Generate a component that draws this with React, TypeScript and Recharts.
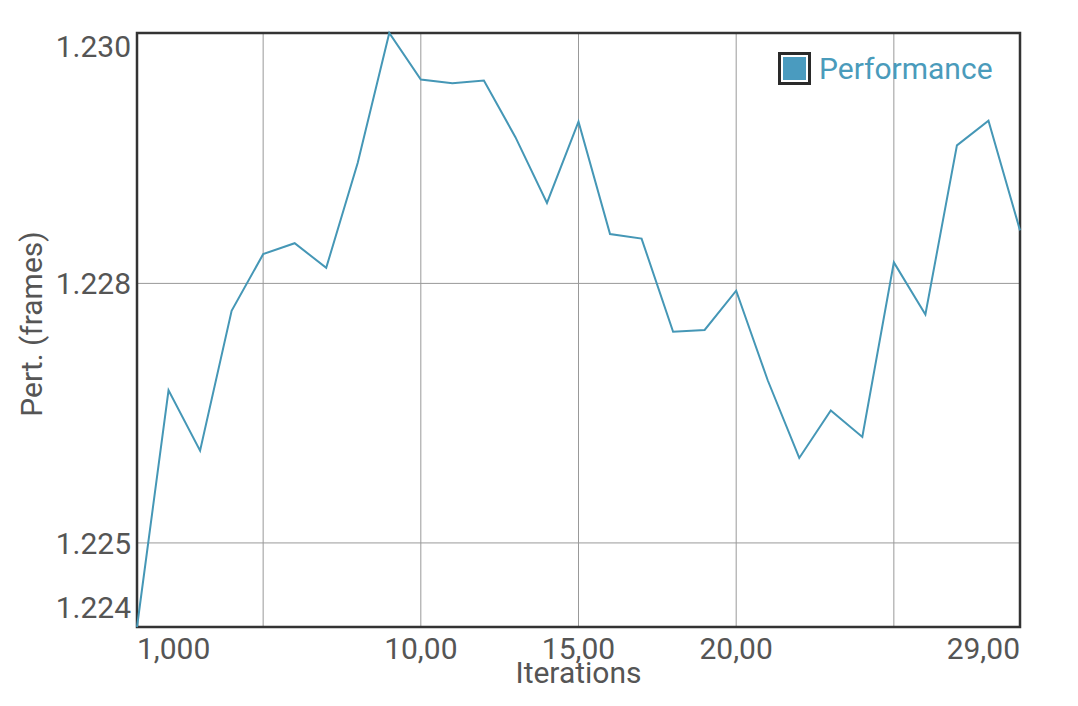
import React from "react";
import { LineChart, Line, XAxis, YAxis, CartesianGrid, ReferenceArea, Legend, Label } from "recharts";

const iterations = [1, 2, 3, 4, 5, 6, 7, 8, 9, 10, 11, 12, 13, 14, 15, 16, 17, 18, 19, 20, 21, 22, 23, 24, 25, 26, 27, 28, 29];
const performance = [
  1.2238, 1.22639, 1.22573, 1.22726, 1.22788, 1.228, 1.22773, 1.22888, 1.2303, 1.22979,
  1.22975, 1.22978, 1.22916, 1.22844, 1.22933, 1.2281, 1.22805, 1.22703, 1.22705, 1.22748,
  1.2265, 1.22565, 1.22617, 1.22588, 1.22779, 1.22722, 1.22907, 1.22934, 1.22814,
];
// grid lines every 5 iterations, labels only on these
const xTicks = [1, 5, 10, 15, 20, 25, 29];
const xLabelTicks = [1, 10, 15, 20, 29];
const yTicks = [1.2238, 1.22472, 1.22756, 1.2303];

const data = iterations.map((it, i) => ({ iter: it, perf: performance[i] }));

const yMin = Math.min(...performance);
const yMax = Math.max(...performance);

const LINE = "#4597b6";
const TEXT = "#555";
const FONT = "Roboto";

const XTick = (props: any) => {
  const { x, y, payload } = props;
  const v = payload.value;
  if (!xLabelTicks.includes(v)) return null;
  let anchor: "start" | "middle" | "end" = "middle";
  if (v === xLabelTicks[0]) anchor = "start";
  if (v === xLabelTicks[xLabelTicks.length - 1]) anchor = "end";
  const label = v.toPrecision(4).replace(".", ",");
  return (
    <text x={x} y={y} dy={32} textAnchor={anchor} fill={TEXT} fontSize={30} fontFamily={FONT}>
      {label}
    </text>
  );
};

const YTick = (props: any) => {
  const { x, y, payload } = props;
  const v = payload.value;
  let dy = 11;
  if (v === yTicks[yTicks.length - 1]) dy = 24; // top label pushed inside
  if (v === yTicks[0]) dy = -9; // bottom label pushed up
  return (
    <text x={x} y={y} dy={dy} textAnchor="end" fill={TEXT} fontSize={30} fontFamily={FONT}>
      {v.toFixed(3)}
    </text>
  );
};

const LegendBox = () => (
  <div style={{ display: "flex", alignItems: "center", fontFamily: FONT, fontSize: 30, color: "#4a9bbb" }}>
    <span
      style={{
        display: "block",
        width: 33,
        height: 33,
        boxSizing: "border-box",
        border: "3px solid #2a2a2a",
        padding: 2,
        background: "#fff",
      }}
    >
      <span style={{ display: "block", width: "100%", height: "100%", background: "#4a9bbf" }} />
    </span>
    <span style={{ marginLeft: 8, lineHeight: "33px", whiteSpace: "nowrap" }}>Performance</span>
  </div>
);

export default function App() {
  return (
    <LineChart
      width={1062}
      height={690}
      data={data}
      margin={{ top: 25, right: 50, bottom: 0, left: 0 }}
      style={{ fontFamily: FONT }}
    >
      <CartesianGrid stroke="#999" strokeWidth={1} />
      <XAxis
        dataKey="iter"
        type="number"
        domain={[1, 29]}
        ticks={xTicks}
        interval={0}
        height={71}
        axisLine={false}
        tickLine={false}
        tickSize={0}
        tickMargin={0}
        tick={<XTick />}
      >
        <Label
          content={({ viewBox }: any) => (
            <text
              x={viewBox.x + viewBox.width / 2}
              y={viewBox.y + 56}
              textAnchor="middle"
              fill={TEXT}
              fontSize={30}
              fontFamily={FONT}
            >
              Iterations
            </text>
          )}
        />
      </XAxis>
      <YAxis
        type="number"
        domain={[yMin, yMax]}
        ticks={yTicks}
        interval={0}
        width={129}
        axisLine={false}
        tickLine={false}
        tickSize={0}
        tickMargin={6}
        tick={<YTick />}
      >
        <Label
          content={({ viewBox }: any) => {
            const cx = viewBox.x + 34;
            const cy = viewBox.y + viewBox.height / 2 - 6;
            return (
              <text
                x={cx}
                y={cy}
                transform={`rotate(-90, ${cx}, ${cy})`}
                textAnchor="middle"
                fill={TEXT}
                fontSize={30}
                fontFamily={FONT}
              >
                Pert. (frames)
              </text>
            );
          }}
        />
      </YAxis>
      <Line
        type="linear"
        dataKey="perf"
        name="Performance"
        stroke={LINE}
        strokeWidth={2}
        dot={false}
        activeDot={false}
        isAnimationActive={false}
      />
      <ReferenceArea
        x1={1}
        x2={29}
        y1={yMin}
        y2={yMax}
        fill="none"
        stroke="#333"
        strokeWidth={2.5}
        ifOverflow="visible"
      />
      <Legend
        layout="horizontal"
        verticalAlign="middle"
        align="center"
        content={<LegendBox />}
        wrapperStyle={{ top: 44, left: 770, width: 260, height: 33 }}
      />
    </LineChart>
  );
}
